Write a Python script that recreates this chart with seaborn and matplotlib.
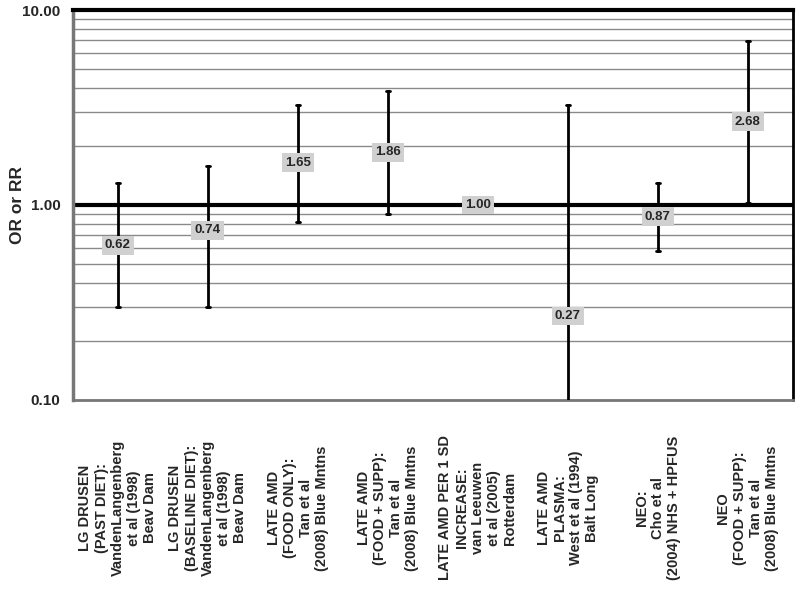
import pandas as pd
import matplotlib
matplotlib.use('Agg')
import matplotlib.pyplot as plt
import matplotlib.ticker as mticker
import seaborn as sns

labels = [
    'LG DRUSEN\n(PAST DIET):\nVandenLangenberg\net al (1998)\nBeav Dam',
    'LG DRUSEN\n(BASELINE DIET):\nVandenLangenberg\net al (1998)\nBeav Dam',
    'LATE AMD\n(FOOD ONLY):\nTan et al\n(2008) Blue Mntns',
    'LATE AMD\n(FOOD + SUPP):\nTan et al\n(2008) Blue Mntns',
    'LATE AMD PER 1 SD\nINCREASE:\nvan Leeuwen\net al (2005)\nRotterdam',
    'LATE AMD\nPLASMA:\nWest et al (1994)\nBalt Long',
    'NEO:\nCho et al\n(2004) NHS + HPFUS',
    'NEO\n(FOOD + SUPP):\nTan et al\n(2008) Blue Mntns',
]
estimate = [0.62, 0.74, 1.65, 1.86, 1.00, 0.27, 0.87, 2.68]
lower = [0.30, 0.30, 0.82, 0.90, 1.00, 0.08, 0.58, 1.02]
upper = [1.29, 1.59, 3.25, 3.83, 1.00, 3.25, 1.29, 6.95]

# long table: median of (lower, est, upper) = est, 100% interval = lower..upper
rows = []
for lab, lo, est, hi in zip(labels, lower, estimate, upper):
    for v in (lo, est, hi):
        rows.append({'study': lab, 'ratio': v})
df = pd.DataFrame(rows)

sns.set_style('white')
plt.rcParams['font.family'] = ['Liberation Sans', 'DejaVu Sans']

fig, ax = plt.subplots(figsize=(8, 5.89), dpi=100)
fig.subplots_adjust(left=0.091, right=0.991, top=0.983, bottom=0.321)
ax.set_yscale('log')

sns.pointplot(data=df, x='study', y='ratio', estimator='median',
              errorbar=('pi', 100), markers='', linestyles='none',
              capsize=0.05, color='black',
              err_kws={'linewidth': 2, 'zorder': 3}, ax=ax)

ax.set_ylim(0.1, 10)
ax.set_xlim(-0.5, len(labels) - 0.5)

# grid lines
ax.yaxis.set_major_locator(mticker.LogLocator(base=10, numticks=5))
ax.yaxis.set_minor_locator(mticker.LogLocator(base=10, subs=range(2, 10), numticks=20))
ax.yaxis.set_major_formatter(mticker.FuncFormatter(lambda v, p: '%.2f' % v))
ax.yaxis.set_minor_formatter(mticker.NullFormatter())
ax.grid(True, axis='y', which='both', color='#8a8a8a', linewidth=1, zorder=0)
ax.set_axisbelow(True)
ax.axhline(1.0, color='black', linewidth=3, zorder=2)

for i, est in enumerate(estimate):
    ax.text(i, est, '%.2f' % est, ha='center', va='center', fontsize=9.5,
            fontweight='bold', zorder=5,
            bbox=dict(boxstyle='square,pad=0.25', facecolor='#d0d0d0', edgecolor='none'))

# category labels, centred under each study
ax.set_xticks(range(len(labels)))
ax.set_xticklabels([])
ax.tick_params(axis='x', which='major', length=0)
for i, lab in enumerate(labels):
    ax.text(i, -0.277, lab, transform=ax.get_xaxis_transform(), rotation=90,
            ha='center', va='center', multialignment='center',
            fontsize=10.5, fontweight='bold', linespacing=1.2)
ax.set_xticks([i + 0.5 for i in range(len(labels) - 1)], minor=True)
ax.tick_params(axis='x', which='minor', length=4, color='#999999')
ax.tick_params(axis='y', which='major', length=4, color='#777777', labelsize=11, pad=5)
ax.tick_params(axis='y', which='minor', length=0)
for t in ax.get_yticklabels():
    t.set_fontweight('bold')

ax.set_xlabel('')
ax.set_ylabel('OR or RR', fontsize=12.5, fontweight='bold')
ax.yaxis.set_label_coords(-0.067, 0.5)

ax.spines['top'].set_color('black')
ax.spines['top'].set_linewidth(3)
ax.spines['right'].set_color('black')
ax.spines['right'].set_linewidth(2)
ax.spines['left'].set_color('#777777')
ax.spines['left'].set_linewidth(2.5)
ax.spines['bottom'].set_color('#777777')
ax.spines['bottom'].set_linewidth(2)

plt.savefig('out.png', dpi=100)
